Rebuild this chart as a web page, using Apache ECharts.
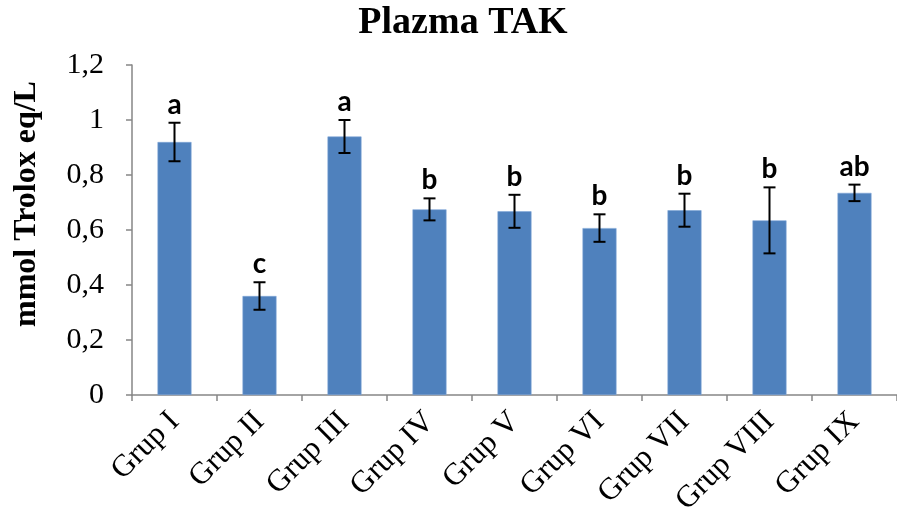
<!DOCTYPE html>
<html>
<head>
<meta charset="utf-8">
<script src="https://cdn.jsdelivr.net/npm/echarts@6/dist/echarts.min.js"></script>
<style>
  html, body { margin: 0; padding: 0; background: #fff; }
  #chart { width: 897px; height: 519px; }
</style>
</head>
<body>
<div id="chart"></div>
<script>
// Plasma total antioxidant capacity per group
const categories = ['Grup I', 'Grup II', 'Grup III', 'Grup IV', 'Grup V', 'Grup VI', 'Grup VII', 'Grup VIII', 'Grup IX'];
const means = [0.92, 0.36, 0.94, 0.675, 0.668, 0.607, 0.672, 0.635, 0.735];
const errors = [0.07, 0.05, 0.06, 0.04, 0.06, 0.05, 0.06, 0.12, 0.03];
const letters = ['a', 'c', 'a', 'b', 'b', 'b', 'b', 'b', 'ab'];
const yTicks = [0, 0.2, 0.4, 0.6, 0.8, 1, 1.2];

const chart = echarts.init(document.getElementById('chart'), null, { renderer: 'canvas' });

const errData = categories.map((c, i) => [i, means[i], errors[i], letters[i]]);

chart.setOption({
  animation: false,
  title: {
    text: 'Plazma TAK',
    left: 458, top: -1, textAlign: 'center',
    textStyle: { fontFamily: 'Liberation Serif', fontWeight: 'bold', fontSize: 38, color: '#000' }
  },
  grid: { left: 132, top: 65, width: 772, height: 330, containLabel: false },
  xAxis: {
    type: 'category',
    data: categories,
    boundaryGap: true,
    axisLine: { lineStyle: { color: '#868686', width: 1.5 } },
    axisTick: { show: true, alignWithLabel: false, length: 6, lineStyle: { color: '#868686', width: 1.5 } },
    axisLabel: {
      interval: 0, rotate: 45, margin: 22,
      fontFamily: 'Liberation Serif', fontSize: 31, color: '#000'
    }
  },
  yAxis: {
    type: 'value',
    min: 0, max: 1.2, interval: 0.2,
    name: 'mmol Trolox eq/L',
    nameLocation: 'middle', nameGap: 89, nameRotate: 90,
    nameTextStyle: {
      fontFamily: 'Liberation Serif', fontWeight: 'bold', fontSize: 32, color: '#000',
      padding: [0, 0, 0, 52]
    },
    splitLine: { show: false },
    axisLine: { show: true, lineStyle: { color: '#868686', width: 1.5 } },
    axisTick: { show: true, length: 6, lineStyle: { color: '#868686', width: 1.5 } },
    axisLabel: {
      margin: 28,
      fontFamily: 'Liberation Serif', fontSize: 30, color: '#000',
      formatter: v => {
        const t = yTicks.find(x => Math.abs(x - v) < 1e-9);
        return t === undefined ? '' : String(t).replace('.', ',');
      }
    }
  },
  series: [
    {
      type: 'bar',
      data: means,
      barWidth: 34,
      itemStyle: { color: '#4F81BD', borderColor: '#7FA6D6', borderWidth: 0.6 }
    },
    {
      type: 'custom',
      data: errData,
      z: 5,
      renderItem: (params, api) => {
        const i = api.value(0), m = api.value(1), e = api.value(2);
        const letter = errData[params.dataIndex][3];
        const top = api.coord([i, m + e]);
        const bot = api.coord([i, m - e]);
        const x = top[0];
        const cap = 6;
        const style = { stroke: '#000', lineWidth: 2 };
        return {
          type: 'group',
          children: [
            { type: 'line', shape: { x1: x, y1: top[1], x2: x, y2: bot[1] }, style },
            { type: 'line', shape: { x1: x - cap, y1: top[1], x2: x + cap, y2: top[1] }, style },
            { type: 'line', shape: { x1: x - cap, y1: bot[1], x2: x + cap, y2: bot[1] }, style },
            {
              type: 'text',
              style: {
                text: letter, x: x, y: top[1] - 4,
                align: 'center', verticalAlign: 'bottom',
                font: 'bold 28px Lato, "Open Sans", sans-serif', fill: '#000'
              }
            }
          ]
        };
      }
    }
  ]
});
</script>
</body>
</html>
